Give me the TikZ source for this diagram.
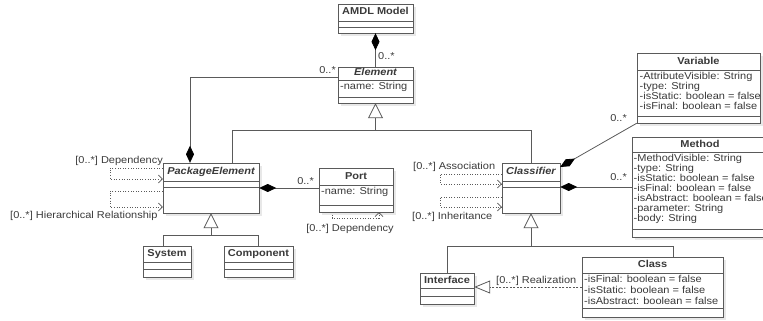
\documentclass[tikz,border=0pt]{standalone}
\usepackage{fontspec}
\setmainfont{Liberation Sans}[FakeStretch=1.1]
\usetikzlibrary{arrows.meta,fit}
\definecolor{lc}{HTML}{5A5A5A}
\definecolor{tc}{HTML}{3A3A3A}
\definecolor{sh}{HTML}{E8E8E8}
\tikzset{
  boxline/.style={draw=lc, line width=0.8pt},
  conn/.style={draw=lc, line width=0.8pt},
  dep/.style={draw=lc, line width=0.7pt, dash pattern=on 1pt off 1.6pt, -{Straight Barb[length=4pt,width=8pt]}},
  comp/.style={conn, {Diamond[length=17pt,width=8pt,black]}-},
  compend/.style={conn, -{Diamond[length=17pt,width=8pt,black]}},
  gen/.style={conn, -{Triangle[open,length=15pt,width=15pt,fill=white]}},
  real/.style={conn, dash pattern=on 2pt off 1.5pt, -{Triangle[open,length=16pt,width=13pt,fill=white]}},
  title/.style={font=\bfseries\fontsize{10}{10}\selectfont, text=tc, inner sep=0, text height=7pt, text depth=2pt},
  atitle/.style={title, font=\bfseries\itshape\fontsize{10}{10}\selectfont},
  attr/.style={font=\fontsize{10}{10}\selectfont, text=tc, inner sep=0, align=left, anchor=north west},
  lab/.style={font=\fontsize{10}{10}\selectfont, text=tc, inner sep=0},
}
\newcommand{\umlbox}[5]{%
  \fill[sh] (#2+3,#3+3) rectangle (#4+3,#5+3);
  \draw[boxline, fill=white] (#2,#3) rectangle (#4,#5);
  \node[inner sep=0, fit={(#2,#3) (#4,#5)}] (#1) {};
}
\newcommand{\udiv}[3]{\draw[boxline] (#1,#3) -- (#2,#3);}
\begin{document}
\begin{tikzpicture}[x=1pt,y=-1pt]
\useasboundingbox (0,0) rectangle (763,321);
% AMDL Model
\umlbox{amdl}{338}{4}{413}{33}
\udiv{338}{413}{21}\udiv{338}{413}{27}
\node[title] (amdlt) at (375.5,12.5) {AMDL Model};
% Element
\umlbox{elem}{338}{67}{413}{103}
\udiv{338}{413}{80}\udiv{338}{413}{97}
\node[atitle] (elemt) at (375.5,73.5) {Element};
\node[attr] (elema) at (340,82) {-name: String};
% PackageElement
\umlbox{pkg}{163}{163}{259}{213}
\udiv{163}{259}{181}\udiv{163}{259}{187}
\node[atitle] (pkgt) at (211,172) {PackageElement};
% Port
\umlbox{port}{319}{168}{393}{212}
\udiv{319}{393}{185}\udiv{319}{393}{205}
\node[title] (portt) at (356,176.5) {Port};
\node[attr] (porta) at (321,187) {-name: String};
% System
\umlbox{sys}{143}{246}{191}{277}
\udiv{143}{191}{262}\udiv{143}{191}{269}
\node[title] (syst) at (167,254) {System};
% Component
\umlbox{cmp}{224}{246}{293}{277}
\udiv{224}{293}{262}\udiv{224}{293}{269}
\node[title] (cmpt) at (258.5,254) {Component};
% Classifier
\umlbox{cls}{502}{163}{560}{213}
\udiv{502}{560}{181}\udiv{502}{560}{187}
\node[atitle] (clst) at (531,172) {Classifier};
% Variable
\umlbox{var}{637}{53}{760}{123}
\udiv{637}{760}{70}\udiv{637}{760}{116}
\node[title] (vart) at (698.5,61.5) {Variable};
\node[attr] (vara) at (639.5,72.5) {-AttributeVisible: String\\-type: String\\-isStatic: boolean = false\\-isFinal: boolean = false};
% Method
\umlbox{meth}{632}{137}{768}{237}
\udiv{632}{768}{152}\udiv{632}{768}{229}
\node[title] (metht) at (700,144.5) {Method};
\node[attr] (metha) at (633.5,154) {-MethodVisible: String\\-type: String\\-isStatic: boolean = false\\-isFinal: boolean = false\\-isAbstract: boolean = false\\-parameter: String\\-body: String};
% Interface
\umlbox{intf}{420}{273}{474}{304}
\udiv{420}{474}{288}\udiv{420}{474}{296}
\node[title] (intft) at (447,280.5) {Interface};
% Class
\umlbox{cl}{582}{257}{723}{317}
\udiv{582}{723}{273}\udiv{582}{723}{308}
\node[title] (clt) at (652.5,265) {Class};
\node[attr, font=\fontsize{10}{11}\selectfont] (cla) at (584,275) {-isFinal: boolean = false\\-isStatic: boolean = false\\-isAbstract: boolean = false};

% compositions
\draw[comp] (amdl.south) -- (elem.north);
\node[lab, anchor=west] (l1) at (378,56) {0..*};
\draw[compend] (elem.west |- 0,77) -| (pkg.north -| 190,0);
\node[lab, anchor=east] (l2) at (336,70) {0..*};
\draw[comp] (pkg.east |- 0,188) -- (port.west |- 0,188);
\node[lab, anchor=east] (l3) at (314,181) {0..*};
\draw[comp] (cls.east |- 0,167) -- (var.south west);
\node[lab, anchor=east] (l4) at (627,118) {0..*};
\draw[comp] (cls.east |- 0,187) -- (meth.west |- 0,187);
\node[lab, anchor=east] (l5) at (627,177) {0..*};

% generalizations
\draw[gen] (elem.south |- 0,130) -- (elem.south);
\draw[conn] (pkg.north -| 232,0) |- (cls.north |- 0,130) -- (cls.north);
\draw[gen] (pkg.south |- 0,235) -- (pkg.south);
\draw[conn] (sys.north -| 163,0) |- (cmp.north |- 0,235) -- (cmp.north);
\draw[gen] (cls.south |- 0,246) -- (cls.south);
\draw[conn] (intf.north) -- (intf.north |- 0,246) -| (cl.north -| 673,0);

% realization
\draw[real] (cl.west |- 0,287) -- (intf.east |- 0,287);
\node[lab, anchor=west] (l6) at (496,281) {[0..*] Realization};

% self dependencies
\draw[dep] (pkg.west |- 0,168) -- (110,168) -- (110,179) -- (pkg.west |- 0,179);
\draw[dep] (pkg.west |- 0,191) -- (110,191) -- (110,207) -- (pkg.west |- 0,207);
\node[lab, anchor=east] (l7) at (163,161) {[0..*] Dependency};
\node[lab, anchor=west] (l8) at (10,216) {[0..*] Hierarchical Relationship};
\draw[dep] (port.south -| 332,0) -- (332,218) -- (379,218) -- (port.south -| 379,0);
\node[lab] (l9) at (350,229) {[0..*] Dependency};
\draw[dep] (cls.west |- 0,174) -- (440,174) -- (440,184) -- (cls.west |- 0,184);
\draw[dep] (cls.west |- 0,197) -- (440,197) -- (440,207) -- (cls.west |- 0,207);
\node[lab, anchor=west] (l10) at (413,167) {[0..*] Association};
\node[lab, anchor=west] (l11) at (412,217) {[0..*] Inheritance};
\end{tikzpicture}
\end{document}
